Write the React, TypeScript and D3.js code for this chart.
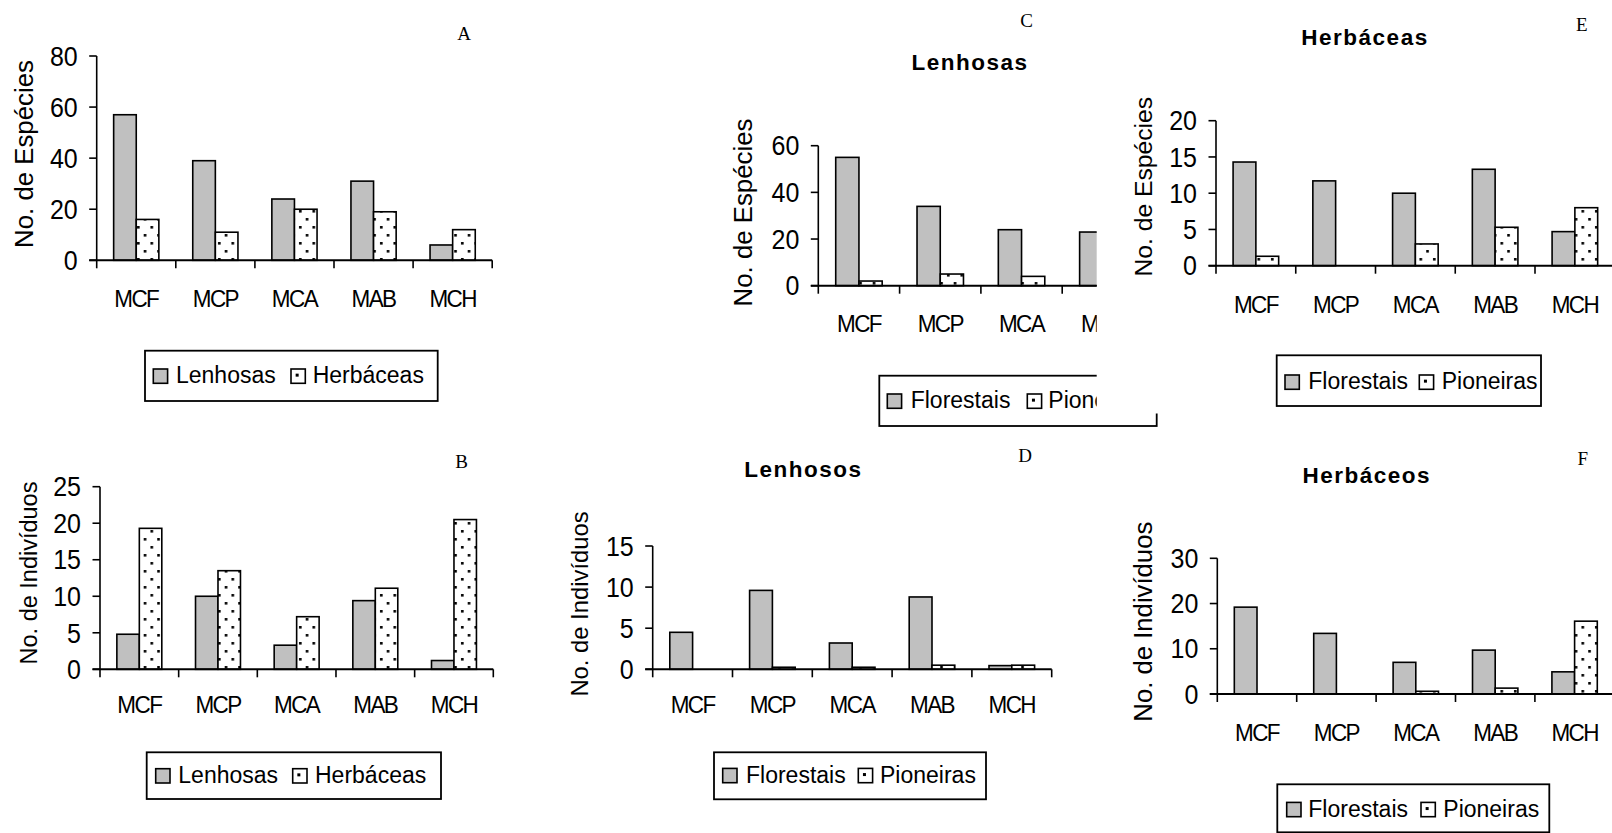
import React from "react";
import * as d3 from "d3";

const categories = ["MCF", "MCP", "MCA", "MAB", "MCH"];

// A: no. de espécies
const aLenhosas = [57, 39, 24, 31, 6];
const aHerbaceas = [16, 11, 20, 19, 12];
// B: no. de indivíduos
const bLenhosas = [4.8, 10, 3.3, 9.4, 1.2];
const bHerbaceas = [19.3, 13.5, 7.2, 11.1, 20.5];
// C: lenhosas, espécies (MAB / MCH partly hidden under E)
const cFlorestais = [55, 34, 24, 23, 5];
const cPioneiras = [2, 5, 4, 8, 1];
// D: lenhosos, indivíduos
const dFlorestais = [4.5, 9.6, 3.2, 8.8, 0.45];
const dPioneiras = [0, 0.25, 0.25, 0.5, 0.5];
// E: herbáceas, espécies
const eFlorestais = [14.3, 11.7, 10, 13.3, 4.7];
const ePioneiras = [1.3, 0, 3, 5.3, 8];
// F: herbáceos, indivíduos
const fFlorestais = [19.2, 13.4, 7, 9.7, 4.9];
const fPioneiras = [0, 0, 0.6, 1.3, 16.1];

const ticksA = [0, 20, 40, 60, 80];
const ticksB = [0, 5, 10, 15, 20, 25];
const ticksC = [0, 20, 40, 60];
const ticksD = [0, 5, 10, 15];
const ticksE = [0, 5, 10, 15, 20];
const ticksF = [0, 10, 20, 30];

const seriesLH = ["Lenhosas", "Herbáceas"];
const seriesFP = ["Florestais", "Pioneiras"];

const SANS = "'Liberation Sans', Arial, Helvetica, sans-serif";
const SERIF = "'Liberation Serif', 'Times New Roman', serif";
const GREY = "#c0c0c0";

const panels = [
  {
    key: "A", letter: [464, 33], title: null, titlePos: null,
    yLabel: "No. de Espécies", yLabelPos: [24, 154], yLabelSize: 25.8,
    x0: 96.7, band: 79.1, y0: 260.3, yTop: 56, ticks: ticksA,
    s1: aLenhosas, s2: aHerbaceas, names: seriesLH, catY: 307.3,
    legend: { x: 145, y: 350.7, w: 292.7, h: 50.3, sw1: 153.3, t1: 176, sw2: 291, t2: 312.7, base: 383.3 },
  },
  {
    key: "B", letter: [461.7, 461.7], title: null, titlePos: null,
    yLabel: "No. de Indivíduos", yLabelPos: [28.7, 573], yLabelSize: 23.5,
    x0: 100, band: 78.66, y0: 669.3, yTop: 486.7, ticks: ticksB,
    s1: bLenhosas, s2: bHerbaceas, names: seriesLH, catY: 713,
    legend: { x: 146.7, y: 752.3, w: 294.3, h: 46.7, sw1: 155.7, t1: 178.3, sw2: 292.7, t2: 315, base: 783 },
  },
  {
    key: "C", letter: [1026.7, 20], title: "Lenhosas", titlePos: [970, 61.7],
    yLabel: "No. de Espécies", yLabelPos: [743.3, 212.5], yLabelSize: 25.8,
    x0: 818.3, band: 81.3, y0: 285.7, yTop: 145.7, ticks: ticksC,
    s1: cFlorestais, s2: cPioneiras, names: seriesFP, catY: 331.7,
    legend: { x: 879.3, y: 375.7, w: 277.4, h: 50.3, sw1: 887.3, t1: 910.7, sw2: 1027.3, t2: 1048.3, base: 408.3 },
    clip: true,
  },
  {
    key: "D", letter: [1025, 455], title: "Lenhosos", titlePos: [803.3, 469.3],
    yLabel: "No. de Indivíduos", yLabelPos: [580, 604], yLabelSize: 23.8,
    x0: 652.7, band: 79.8, y0: 669.3, yTop: 546, ticks: ticksD,
    s1: dFlorestais, s2: dPioneiras, names: seriesFP, catY: 713.3,
    legend: { x: 714, y: 752.3, w: 272, h: 47, sw1: 722.7, t1: 746, sw2: 858.3, t2: 880, base: 782.7 },
  },
  {
    key: "E", letter: [1581.7, 24], title: "Herbáceas", titlePos: [1365, 37.3],
    yLabel: "No. de Espécies", yLabelPos: [1143.3, 186.7], yLabelSize: 24.7,
    x0: 1216, band: 79.75, y0: 265.7, yTop: 120.7, ticks: ticksE,
    s1: eFlorestais, s2: ePioneiras, names: seriesFP, catY: 313.3,
    legend: { x: 1276.7, y: 355.3, w: 264.3, h: 50.7, sw1: 1285, t1: 1308.3, sw2: 1419.3, t2: 1441.7, base: 389.3 },
  },
  {
    key: "F", letter: [1582.7, 458.3], title: "Herbáceos", titlePos: [1366.7, 475],
    yLabel: "No. de Indivíduos", yLabelPos: [1143.3, 621.7], yLabelSize: 25.7,
    x0: 1217.3, band: 79.4, y0: 694, yTop: 558.3, ticks: ticksF,
    s1: fFlorestais, s2: fPioneiras, names: seriesFP, catY: 740.7,
    legend: { x: 1277.3, y: 784.3, w: 272, h: 48, sw1: 1286.7, t1: 1308.3, sw2: 1421, t2: 1443.3, base: 816.7 },
  },
];

function Panel({ p }: { p: any }) {
  const x = d3
    .scaleBand<string>()
    .domain(categories)
    .range([p.x0, p.x0 + p.band * categories.length])
    .padding(0);
  const y = d3
    .scaleLinear()
    .domain([0, d3.max(p.ticks as number[]) as number])
    .range([p.y0, p.yTop]);
  const bw = x.bandwidth() / 3.5;
  const inner = d3.scaleBand<number>().domain([0, 1]).range([0, 2 * bw]);
  const xEnd = p.x0 + p.band * categories.length;
  const lg = p.legend;
  const sw = 14.3;

  return (
    <g clipPath={p.clip ? "url(#clipC)" : undefined}>
      {/* bars */}
      {categories.map((c, i) =>
        [p.s1[i], p.s2[i]].map((v: number, k: number) =>
          v > 0 ? (
            <rect
              key={c + k}
              x={(x(c) as number) + 0.75 * bw + (inner(k) as number)}
              y={y(v)}
              width={inner.bandwidth()}
              height={p.y0 - y(v)}
              fill={k === 0 ? GREY : "url(#dots)"}
              stroke="#000"
              strokeWidth={1.6}
            />
          ) : null
        )
      )}

      {/* y axis */}
      <line x1={p.x0} x2={p.x0} y1={p.yTop} y2={p.y0} stroke="#000" strokeWidth={1.6} />
      {p.ticks.map((t: number) => (
        <g key={"t" + t}>
          <line x1={p.x0 - 7.5} x2={p.x0} y1={y(t)} y2={y(t)} stroke="#000" strokeWidth={1.6} />
          <text
            transform={`translate(${p.x0 - 19},${y(t)}) scale(1,1.08)`}
            dy="0.36em"
            textAnchor="end"
            fontFamily={SANS}
            fontSize={25}
          >
            {t}
          </text>
        </g>
      ))}

      {/* x axis */}
      <line x1={p.x0 - 7.5} x2={xEnd} y1={p.y0} y2={p.y0} stroke="#000" strokeWidth={2} />
      {categories.concat([""]).map((c, i) => {
        const xx = p.x0 + i * x.step();
        return <line key={"x" + i} x1={xx} x2={xx} y1={p.y0} y2={p.y0 + 8} stroke="#000" strokeWidth={1.6} />;
      })}
      {categories.map((c) => (
        <text
          key={"c" + c}
          transform={`translate(${(x(c) as number) + x.bandwidth() / 2},${p.catY}) scale(1,1.06)`}
          textAnchor="middle"
          fontFamily={SANS}
          fontSize={22.5}
          letterSpacing={-1.6}
        >
          {c}
        </text>
      ))}

      {/* y label */}
      <text
        transform={`translate(${p.yLabelPos[0]},${p.yLabelPos[1]}) rotate(-90)`}
        dy="0.35em"
        textAnchor="middle"
        fontFamily={SANS}
        fontSize={p.yLabelSize}
      >
        {p.yLabel}
      </text>

      {/* title */}
      {p.title ? (
        <text
          x={p.titlePos[0]}
          y={p.titlePos[1]}
          dy="0.36em"
          textAnchor="middle"
          fontFamily={SANS}
          fontWeight="bold"
          fontSize={22.5}
          letterSpacing={1.5}
        >
          {p.title}
        </text>
      ) : null}

      {/* legend */}
      <rect x={lg.x} y={lg.y} width={lg.w} height={lg.h} fill="#fff" stroke="#000" strokeWidth={1.8} />
      <rect x={lg.sw1} y={lg.base - sw} width={sw} height={sw} fill={GREY} stroke="#000" strokeWidth={1.6} />
      <text x={lg.t1} y={lg.base} fontFamily={SANS} fontSize={23}>
        {p.names[0]}
      </text>
      <rect x={lg.sw2} y={lg.base - sw} width={sw} height={sw} fill="#fff" stroke="#000" strokeWidth={1.6} />
      <rect x={lg.sw2 + sw / 2 - 2.5} y={lg.base - sw / 2 - 2.5} width={3} height={3} fill="#000" />
      <text x={lg.t2} y={lg.base} fontFamily={SANS} fontSize={23}>
        {p.names[1]}
      </text>
    </g>
  );
}

export default function App() {
  return (
    <div style={{ position: "absolute", left: 0, top: 0 }}>
      <svg width={1612} height={833} style={{ display: "block", background: "#fff" }}>
        <defs>
          <pattern id="dots" patternUnits="userSpaceOnUse" width={13.5} height={16}>
            <rect width={13.5} height={16} fill="#fff" />
            <rect x={2} y={2} width={2.6} height={2.6} fill="#000" />
            <rect x={8.75} y={10} width={2.6} height={2.6} fill="#000" />
          </pattern>
          <clipPath id="clipC">
            <path d="M0,0 H1096.7 V413.5 H1612 V833 H0 Z" />
          </clipPath>
        </defs>
        <rect width={1612} height={833} fill="#fff" />
        {panels.map((p) => (
          <Panel key={p.key} p={p} />
        ))}
        {panels.map((p) => (
          <text
            key={"L" + p.key}
            x={p.letter[0]}
            y={p.letter[1]}
            dy="0.35em"
            textAnchor="middle"
            fontFamily={SERIF}
            fontSize={19}
          >
            {p.key}
          </text>
        ))}
      </svg>
    </div>
  );
}
